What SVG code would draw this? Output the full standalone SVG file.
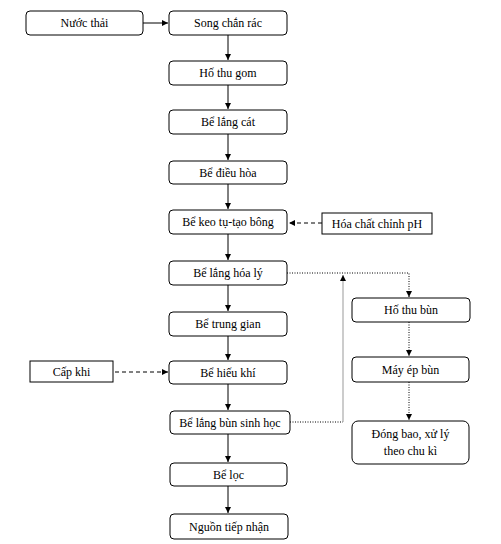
<svg xmlns="http://www.w3.org/2000/svg" width="501" height="544" viewBox="0 0 501 544" font-family="'Liberation Serif', 'Times New Roman', serif" font-size="12">
<style>
.n rect{fill:#fff;stroke:#000;stroke-width:1}
.n text{font-family:'Liberation Serif','Times New Roman',serif;font-size:12px;fill:#000;text-anchor:middle}
.c line,.c polyline{fill:none;stroke:#000;stroke-width:1}
.dash{stroke-dasharray:4 3}
.dot{stroke-dasharray:1 1.5}
.gray{stroke:#999 !important}
</style>
<defs>
<marker id="a" markerWidth="8" markerHeight="8" refX="6" refY="3" orient="auto" markerUnits="userSpaceOnUse">
<path d="M0,0 L6,3 L0,6 z" fill="#000"/>
</marker>
</defs>
<rect width="501" height="544" fill="#fff"/>
<g class="c">
<line x1="143" y1="23" x2="168" y2="23" marker-end="url(#a)"/>
<line x1="228" y1="35" x2="228" y2="60" marker-end="url(#a)"/>
<line x1="228" y1="85" x2="228" y2="109" marker-end="url(#a)"/>
<line x1="228" y1="134" x2="228" y2="160" marker-end="url(#a)"/>
<line x1="228" y1="184" x2="228" y2="209" marker-end="url(#a)"/>
<line x1="228" y1="234" x2="228" y2="260" marker-end="url(#a)"/>
<line x1="228" y1="285" x2="228" y2="311" marker-end="url(#a)"/>
<line x1="228" y1="336" x2="228" y2="360" marker-end="url(#a)"/>
<line x1="228" y1="384" x2="228" y2="410" marker-end="url(#a)"/>
<line x1="228" y1="434" x2="228" y2="462" marker-end="url(#a)"/>
<line x1="228" y1="486" x2="228" y2="513" marker-end="url(#a)"/>
<line class="dash" x1="322" y1="223" x2="289" y2="223" marker-end="url(#a)"/>
<line class="dash" x1="115" y1="372" x2="168" y2="372" marker-end="url(#a)"/>
<polyline class="dot" points="287,273 409,273 409,297" marker-end="url(#a)"/>
<polyline class="dot" points="290,422 343,422"/>
<line class="gray" x1="343" y1="422" x2="343" y2="275" marker-end="url(#a)"/>
<line class="dot" x1="409" y1="322" x2="409" y2="356" marker-end="url(#a)"/>
<line class="dot" x1="409" y1="382" x2="409" y2="420" marker-end="url(#a)"/>
</g>
<g id="nuoc-thai" class="n"><rect x="26" y="11" width="117" height="24" rx="4"/><text x="84.5" y="27">Nước thải</text></g>
<g id="song-chan-rac" class="n"><rect x="169" y="11" width="118" height="24" rx="4"/><text x="228" y="27">Song chắn rác</text></g>
<g id="ho-thu-gom" class="n"><rect x="169" y="61" width="118" height="24" rx="4"/><text x="228" y="77">Hố thu gom</text></g>
<g id="be-lang-cat" class="n"><rect x="169" y="110" width="118" height="24" rx="4"/><text x="228" y="126">Bể lắng cát</text></g>
<g id="be-dieu-hoa" class="n"><rect x="169" y="161" width="118" height="23" rx="4"/><text x="228" y="177">Bể điều hòa</text></g>
<g id="be-keo-tu" class="n"><rect x="169" y="210" width="118" height="24" rx="4"/><text x="228" y="226">Bể keo tụ-tạo bông</text></g>
<g id="hoa-chat" class="n"><rect x="322" y="213" width="110" height="21"/><text x="377" y="228">Hóa chất chỉnh pH</text></g>
<g id="be-lang-hoa-ly" class="n"><rect x="169" y="261" width="118" height="24" rx="4"/><text x="228" y="277">Bể lắng hóa lý</text></g>
<g id="be-trung-gian" class="n"><rect x="169" y="312" width="118" height="24" rx="4"/><text x="228" y="328">Bể trung gian</text></g>
<g id="cap-khi" class="n"><rect x="30" y="361" width="83" height="21"/><text x="71.5" y="376">Cấp khi</text></g>
<g id="be-hieu-khi" class="n"><rect x="169" y="361" width="118" height="23" rx="4"/><text x="228" y="377">Bể hiếu khí</text></g>
<g id="be-lang-bun" class="n"><rect x="170" y="411" width="120" height="23" rx="4"/><text x="230" y="427">Bể lắng bùn sinh học</text></g>
<g id="be-loc" class="n"><rect x="170" y="463" width="117" height="23" rx="4"/><text x="228.5" y="479">Bể lọc</text></g>
<g id="nguon-tiep-nhan" class="n"><rect x="170" y="514" width="118" height="25" rx="4"/><text x="229" y="531">Nguồn tiếp nhận</text></g>
<g id="ho-thu-bun" class="n"><rect x="352" y="298" width="118" height="24" rx="4"/><text x="411" y="314">Hố thu bùn</text></g>
<g id="may-ep-bun" class="n"><rect x="352" y="357" width="117" height="25" rx="4"/><text x="410.5" y="374">Máy ép bùn</text></g>
<g id="dong-bao" class="n"><rect x="352" y="421" width="117" height="43" rx="6"/><text x="410.5" y="438">Đóng bao, xử lý</text><text x="410.5" y="455">theo chu kì</text></g>
</svg>
